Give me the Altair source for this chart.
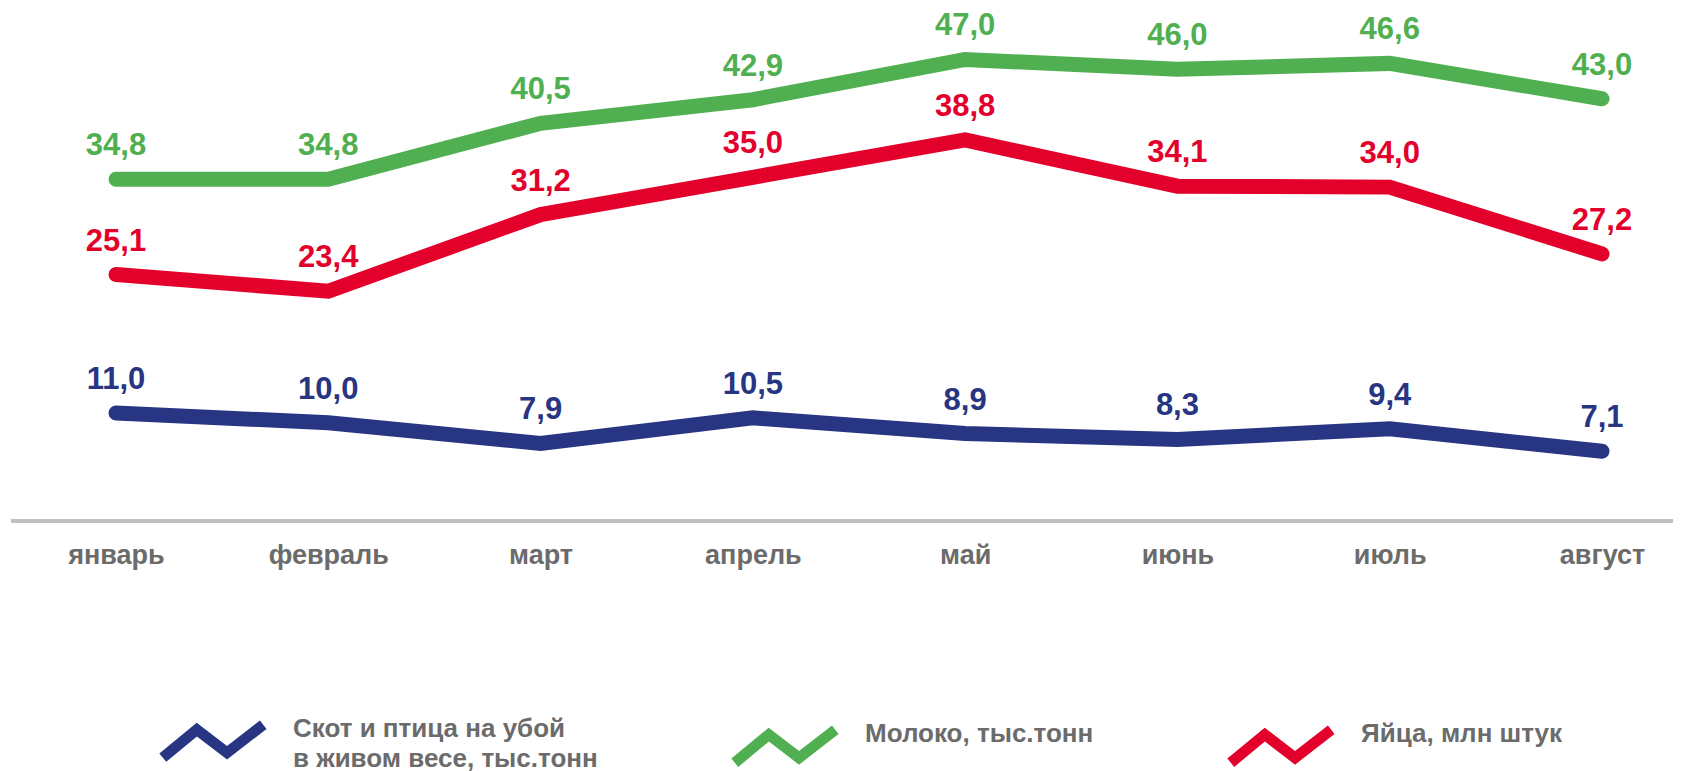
import math
import altair as alt
import pandas as pd

months = ["январь", "февраль", "март", "апрель", "май", "июнь", "июль", "август"]
series = ["Скот и птица на убой|в живом весе, тыс.тонн", "Молоко, тыс.тонн", "Яйца, млн штук"]
livestock = [11.0, 10.0, 7.9, 10.5, 8.9, 8.3, 9.4, 7.1]
milk = [34.8, 34.8, 40.5, 42.9, 47.0, 46.0, 46.6, 43.0]
eggs = [25.1, 23.4, 31.2, 35.0, 38.8, 34.1, 34.0, 27.2]
colors = ["#283583", "#50AF50", "#E3002B"]

rows = []
for name, vals in zip(series, [livestock, milk, eggs]):
    for m, v in zip(months, vals):
        rows.append({"month": m, "series": name, "value": v})
df = pd.DataFrame(rows)

W, H = 1662, 491
FONT = "Liberation Sans"


def band_path(pts, hw):
    """Zigzag legend glyph: a polyline outlined as a thin filled band (unit coords)."""
    n = len(pts)
    normals = []
    for i in range(n - 1):
        dx, dy = pts[i + 1][0] - pts[i][0], pts[i + 1][1] - pts[i][1]
        L = math.hypot(dx, dy)
        normals.append((-dy / L, dx / L))
    left, right = [], []
    for i, (px, py) in enumerate(pts):
        if i == 0:
            mx, my, s = normals[0][0], normals[0][1], 1.0
        elif i == n - 1:
            mx, my, s = normals[-1][0], normals[-1][1], 1.0
        else:
            a, b = normals[i - 1], normals[i]
            mx, my = a[0] + b[0], a[1] + b[1]
            ml = math.hypot(mx, my)
            mx, my = mx / ml, my / ml
            s = 1.0 / (mx * a[0] + my * a[1])
        left.append((px + hw * s * mx, py + hw * s * my))
        right.append((px - hw * s * mx, py - hw * s * my))
    ring = left + right[::-1]
    return "M" + "L".join(f"{x:.3f},{y:.3f}" for x, y in ring) + "Z"


ZIGZAG = band_path([(-0.93, 0.53), (-0.30, 0.01), (0.26, 0.44), (0.93, -0.08)], 0.10)

x_enc = alt.X(
    "month:N", sort=months,
    scale=alt.Scale(type="point", range=[105, 1591], padding=0),
    axis=alt.Axis(title=None, domain=False, ticks=False, tickSize=0, grid=False,
                  labelAngle=0, labelFont=FONT, labelFontSize=27, labelFontWeight="bold",
                  labelColor="#6b6b6b", labelPadding=34, labelBaseline="middle"),
)
y_scale = alt.Scale(domain=[0, 50], nice=False, zero=True)
y_enc = alt.Y("value:Q", scale=y_scale, axis=None)
color_scale = alt.Scale(domain=series, range=colors)

lines = alt.Chart(df).mark_line(strokeWidth=15, strokeCap="round", strokeJoin="miter").encode(
    x=x_enc, y=y_enc,
    color=alt.Color("series:N", sort=series, scale=color_scale,
                    legend=alt.Legend(title=None, orient="none", legendX=148, legendY=645,
                                      direction="horizontal", symbolType=ZIGZAG,
                                      symbolSize=11664, symbolStrokeWidth=0,
                                      labelFont=FONT, labelFontSize=26, labelFontWeight="bold",
                                      labelColor="#6b6b6b", labelOffset=26, labelLimit=600,
                                      labelBaseline="middle",
                                      columnPadding=133, padding=0,
                                      labelExpr="split(datum.label, '|')")),
)

labels = alt.Chart(df).transform_calculate(
    label="replace(format(datum.value, '.1f'), '.', ',')"
).mark_text(dy=-33, fontSize=31, fontWeight="bold", font=FONT, baseline="middle").encode(
    x=x_enc, y=y_enc,
    text="label:N",
    color=alt.Color("series:N", sort=series, scale=color_scale, legend=None),
)

axis_line = alt.Chart(df).mark_rule(color="#c0c0c0", strokeWidth=2.5).encode(
    y=alt.Y(datum=0, scale=y_scale, axis=None),
    x=alt.value(0), x2=alt.value(W),
)

chart = alt.layer(axis_line, lines, labels).properties(
    width=W, height=H,
    autosize=alt.AutoSizeParams(type="none"),
    padding={"left": 3, "top": 22, "right": 0, "bottom": 250},
).configure(
    view={"stroke": None},
    style={"guide-label": {"lineHeight": 30}},
)

chart.save("out.html", embed_options={"renderer": "svg", "actions": False})
